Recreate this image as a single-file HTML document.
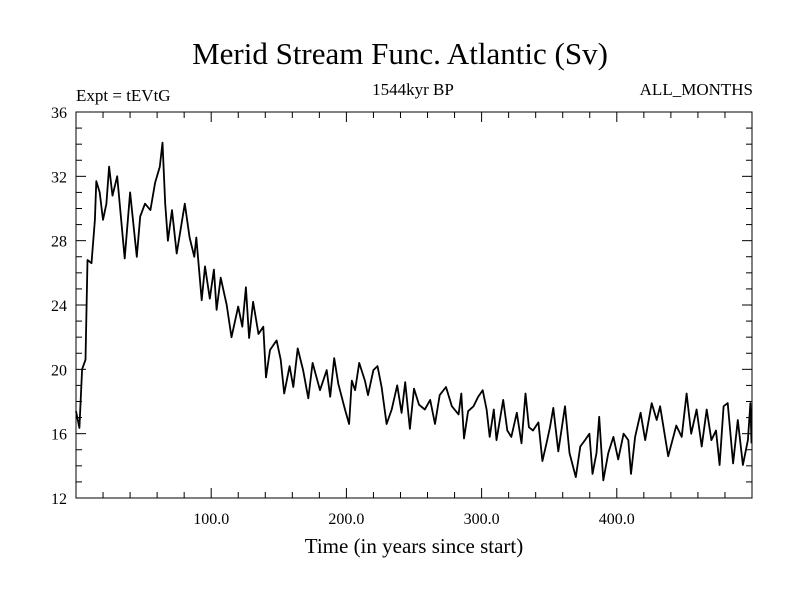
<!DOCTYPE html>
<html><head><meta charset="utf-8"><style>
html,body{margin:0;padding:0;background:#fff;}
svg{display:block;font-family:"Liberation Serif",serif;}
</style></head><body>
<svg id="chart" width="800" height="600" viewBox="0 0 800 600">
<rect x="0" y="0" width="800" height="600" fill="#fff"/>
<text x="400" y="64" text-anchor="middle" font-size="31">Merid Stream Func. Atlantic (Sv)</text>
<text x="76" y="101" font-size="17">Expt = tEVtG</text>
<text x="413" y="95" text-anchor="middle" font-size="17">1544kyr BP</text>
<text x="753" y="95" text-anchor="end" font-size="17">ALL_MONTHS</text>
<text x="414" y="553" text-anchor="middle" font-size="21">Time (in years since start)</text>
<g id="axes"></g>
<path id="series" fill="none" stroke="#000" stroke-width="1.8" stroke-linejoin="round"/>
<rect x="76" y="112" width="676" height="386" fill="none" stroke="#000" stroke-width="1"/>
</svg>
<script>
const years=[0,2.5,4.5,7,8.5,11.5,14,15,17.5,20,22.5,24.5,27,30.5,36,40,45,47.5,51,55,58.5,62,64,66,68,71,74.5,80.5,84,87.5,89,93,95.4,99,102,104,107,111.5,115,120,123,125.7,128,131,135,138.5,140.5,143.5,148.4,151.4,154,158,160.7,164,168,171.8,175,180.5,185.4,188,191,194,199,202,204,206.4,209.5,213.7,216,220,223,226,229.7,233.5,237.6,240.8,243.5,247,250,253.7,258,262,265.5,269,273.7,278,283,285,287,290,294,297.5,300.8,303.7,306,309,311,316,319,322,326,329.5,332.5,335,338,342,345,348,350.6,353,356.7,361.7,365,369.7,373,376.5,379.7,382,385,387,390,393.7,397.5,401,405,408.5,410.5,413.5,417.6,421,425.8,429.5,432,438,444,448,451.6,455,459,462.8,466.5,470,473.4,476,479,482,486,489.5,493.3,497,498.8,499.6];
const values=[17.4,16.35,20.0,20.6,26.8,26.6,29.3,31.7,31.0,29.3,30.3,32.6,30.8,32.0,26.9,31.0,27.0,29.5,30.3,29.9,31.6,32.6,34.1,30.3,28.0,29.9,27.2,30.3,28.2,27.0,28.2,24.3,26.4,24.4,26.2,23.7,25.7,24.0,22.0,23.9,22.65,25.1,21.95,24.2,22.2,22.65,19.5,21.2,21.8,20.6,18.5,20.2,18.9,21.3,19.95,18.2,20.4,18.7,19.95,18.3,20.7,19.1,17.5,16.6,19.3,18.7,20.4,19.3,18.4,19.95,20.2,18.9,16.6,17.5,19.0,17.3,19.2,16.3,18.8,17.8,17.5,18.1,16.6,18.4,18.9,17.7,17.2,18.5,15.7,17.4,17.7,18.3,18.7,17.5,15.8,17.5,15.6,18.1,16.2,15.8,17.3,15.4,18.5,16.4,16.2,16.7,14.3,15.4,16.4,17.6,14.9,17.7,14.8,13.3,15.2,15.6,16.0,13.5,14.8,17.05,13.1,14.8,15.8,14.4,16.0,15.6,13.5,15.8,17.3,15.6,17.9,16.85,17.7,14.6,16.5,15.8,18.5,16.0,17.5,15.2,17.5,15.6,16.2,14.05,17.7,17.9,14.15,16.85,14.05,15.6,17.9,15.4];
const yTicks=[12,16,20,24,28,32,36];
const xTickLabels=["100.0","200.0","300.0","400.0"];
const xTickValues=[100,200,300,400];

const X0=76,X1=752,Y0=498,Y1=112,XMIN=0,XMAX=500,YMIN=12,YMAX=36;
function xs(v){return X0+(v-XMIN)/(XMAX-XMIN)*(X1-X0);}
function ys(v){return Y0-(v-YMIN)/(YMAX-YMIN)*(Y0-Y1);}
const NS="http://www.w3.org/2000/svg";
const axes=document.getElementById('axes');
function line(x1,y1,x2,y2,name){
  const l=document.createElementNS(NS,'line');
  l.setAttribute('x1',x1);l.setAttribute('y1',y1);l.setAttribute('x2',x2);l.setAttribute('y2',y2);
  l.setAttribute('stroke','#000');l.setAttribute('stroke-width','1');
  
  
  axes.appendChild(l);
}
function text(x,y,s,anchor,size,name){
  const t=document.createElementNS(NS,'text');
  t.setAttribute('x',x);t.setAttribute('y',y);t.setAttribute('text-anchor',anchor);t.setAttribute('font-size',size);
  t.textContent=s;
  
  
  axes.appendChild(t);
}
// y minor ticks every 1
for(let v=YMIN+1;v<YMAX;v++){
  const y=ys(v),len=(v%4===0)?10:6;
  line(X0,y,X0+len,y,'y-tick');
  line(X1,y,X1-len,y,'y-tick-right');
}
yTicks.forEach(v=>{text(X0-9,ys(v)+6,String(v),'end',16,'y-tick-label');});
// x ticks every 20
for(let v=20;v<XMAX;v+=20){
  const x=xs(v),len=(v%100===0)?10:6;
  line(x,Y0,x,Y0-len,'x-tick');
  line(x,Y1,x,Y1+len,'x-tick-top');
}
xTickValues.forEach((v,i)=>{text(xs(v),524,xTickLabels[i],'middle',16,'x-tick-label');});
let d='';
years.forEach((yr,i)=>{d+=(i?'L':'M')+xs(yr).toFixed(1)+' '+ys(values[i]).toFixed(1);});
document.getElementById('series').setAttribute('d',d);
</script>
</body></html>
